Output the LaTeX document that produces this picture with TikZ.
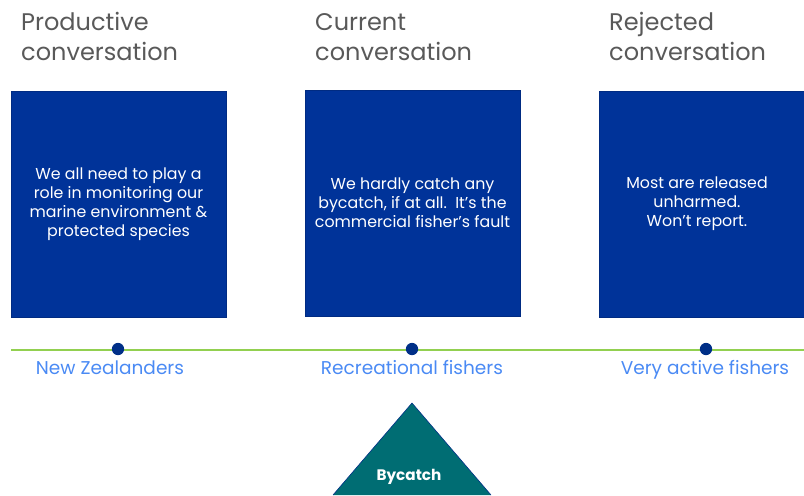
\documentclass[tikz,border=0pt]{standalone}
\usepackage{fontspec}
\setmainfont{Poppins}
\usepackage{tikz}
\usetikzlibrary{positioning}
\definecolor{panelblue}{HTML}{003399}
\definecolor{dotblue}{HTML}{002F87}
\definecolor{labelblue}{HTML}{4A8AF4}
\definecolor{titlegray}{HTML}{595959}
\definecolor{linegreen}{HTML}{92D050}
\definecolor{teal}{HTML}{006D73}

\begin{document}
\begin{tikzpicture}[x=0.03cm, y=-0.03cm,
    title/.style={anchor=base west, align=left, text=titlegray, inner sep=0pt,
      font=\fontsize{20.5}{24.8}\selectfont},
    panel/.style={fill=panelblue, draw=panelblue!85!black, text=white, align=center,
      minimum width=183.5pt, minimum height=193pt, inner sep=0pt,
      font=\fontsize{13.5}{16.2}\selectfont},
    group/.style={anchor=base, text=labelblue, font=\fontsize{15.8}{18}\selectfont},
    marker/.style={circle, fill=dotblue, inner sep=0pt, minimum size=10.5pt}]
  \useasboundingbox (0,0) rectangle (804,495);

  % headings (base = second line)
  \node[title] (prod) at (21,60) {Productive\\conversation};
  \node[title] (curr) at (315,60) {Current\\conversation};
  \node[title] (rej) at (609,60) {Rejected\\conversation};

  % panels
  \node[panel] (p1) at (118.5,204) {We all need to play a\\role in monitoring our\\marine environment \&\\protected species};
  \node[panel] (p2) at (412.5,203) {We hardly catch any\\bycatch, if at all.\ \ It's the\\commercial fisher's fault};
  \node[panel, minimum width=175pt] (p3) at (701.5,204) {};
  \node[text=white, align=center, font=\fontsize{13.5}{16.2}\selectfont] (p3txt) at (697,204) {Most are released\\unharmed.\\Won't report.};

  % timeline
  \coordinate (lineL) at (11,350);
  \coordinate (lineR) at (804,350);
  \draw[linegreen, line width=1.8pt] (lineL) -- (lineR);
  \node[marker] (nz) at (118,349) {};
  \node[marker] (rec) at (412,349) {};
  \node[marker] (act) at (706,349) {};
  \node[group] (nzlab) at (110,374) {New Zealanders};
  \node[group] (reclab) at (412,374) {Recreational fishers};
  \node[group] (actlab) at (705,374) {Very active fishers};

  % bycatch
  \coordinate (apex) at (412,403);
  \coordinate (baseL) at (333,495);
  \coordinate (baseR) at (491,495);
  \filldraw[fill=teal, draw=dotblue, line width=0.5pt] (baseL) -- (apex) -- (baseR);
  \node[anchor=base, text=white, font=\bfseries\fontsize{13}{15}\selectfont] (by) at (409,480) {Bycatch};
\end{tikzpicture}
\end{document}
